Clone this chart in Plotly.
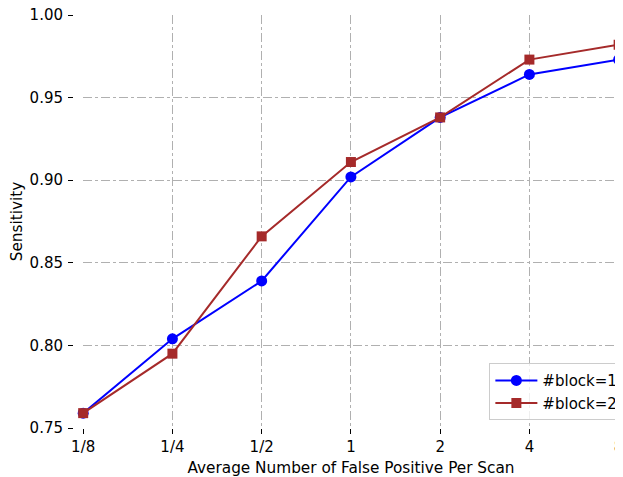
import plotly.graph_objects as go

x_labels = ["1/8", "1/4", "1/2", "1", "2", "4", "8"]
block1 = [0.759, 0.804, 0.839, 0.902, 0.938, 0.964, 0.973]
block2 = [0.759, 0.795, 0.866, 0.911, 0.938, 0.973, 0.982]
y_ticks = [0.75, 0.80, 0.85, 0.90, 0.95, 1.00]

xpos = list(range(len(x_labels)))

fig = go.Figure()
fig.add_trace(go.Scatter(
    x=xpos, y=block1, mode="lines+markers", name="#block=1", legendgroup="a",
    line=dict(color="#0000ff", width=2),
    marker=dict(symbol="circle", size=11, color="#0000ff"),
    cliponaxis=False,
))
fig.add_trace(go.Scatter(
    x=xpos, y=block2, mode="lines+markers", name="#block=2", legendgroup="b",
    line=dict(color="#a52a2a", width=2),
    marker=dict(symbol="square", size=10, color="#a52a2a"),
    cliponaxis=False,
))

font = dict(family="DejaVu Sans", size=15, color="#000000")
title_font = dict(family="DejaVu Sans", size=15.3, color="#000000")
W, H = 615, 469
L, R, T, B = 65, 4, 7, 49
plot_w = W - L - R
fig.update_layout(
    width=W, height=H,
    margin=dict(l=L, r=R, t=T, b=B, autoexpand=False),
    paper_bgcolor="white", plot_bgcolor="white",
    font=font,
    showlegend=True,
    legend=dict(
        x=1.008, y=0.019, xanchor="right", yanchor="bottom",
        bgcolor="rgba(255,255,255,0.8)", bordercolor="#cccccc", borderwidth=1,
        font=dict(family="DejaVu Sans", size=15, color="#000000"),
        tracegroupgap=0, itemwidth=42,
    ),
)
fig.update_xaxes(
    domain=[10 / plot_w, 1],
    range=[-0.002, len(x_labels) - 1 + 0.004],
    tickmode="array", tickvals=xpos, ticktext=x_labels,
    showline=False, zeroline=False,
    showgrid=True, gridcolor="#b0b0b0", griddash="dashdot", gridwidth=1,
    ticks="outside", ticklen=5, tickcolor="#000000", tickwidth=1,
    ticklabeloverflow="allow",
    title=dict(text="Average Number of False Positive Per Scan", standoff=7, font=title_font),
    tickfont=font,
)
fig.update_yaxes(
    anchor="free", position=0,
    range=[0.75, 1.0],
    tickmode="array", tickvals=y_ticks, ticktext=[f"{v:.2f}" for v in y_ticks],
    showline=False, zeroline=False,
    showgrid=True, gridcolor="#b0b0b0", griddash="dashdot", gridwidth=1,
    ticks="outside", ticklen=5, tickcolor="#000000", tickwidth=1,
    ticklabeloverflow="allow", ticklabelstandoff=2,
    title=dict(text="Sensitivity", standoff=8, font=title_font),
    tickfont=font,
)

fig.write_html("out.html")
